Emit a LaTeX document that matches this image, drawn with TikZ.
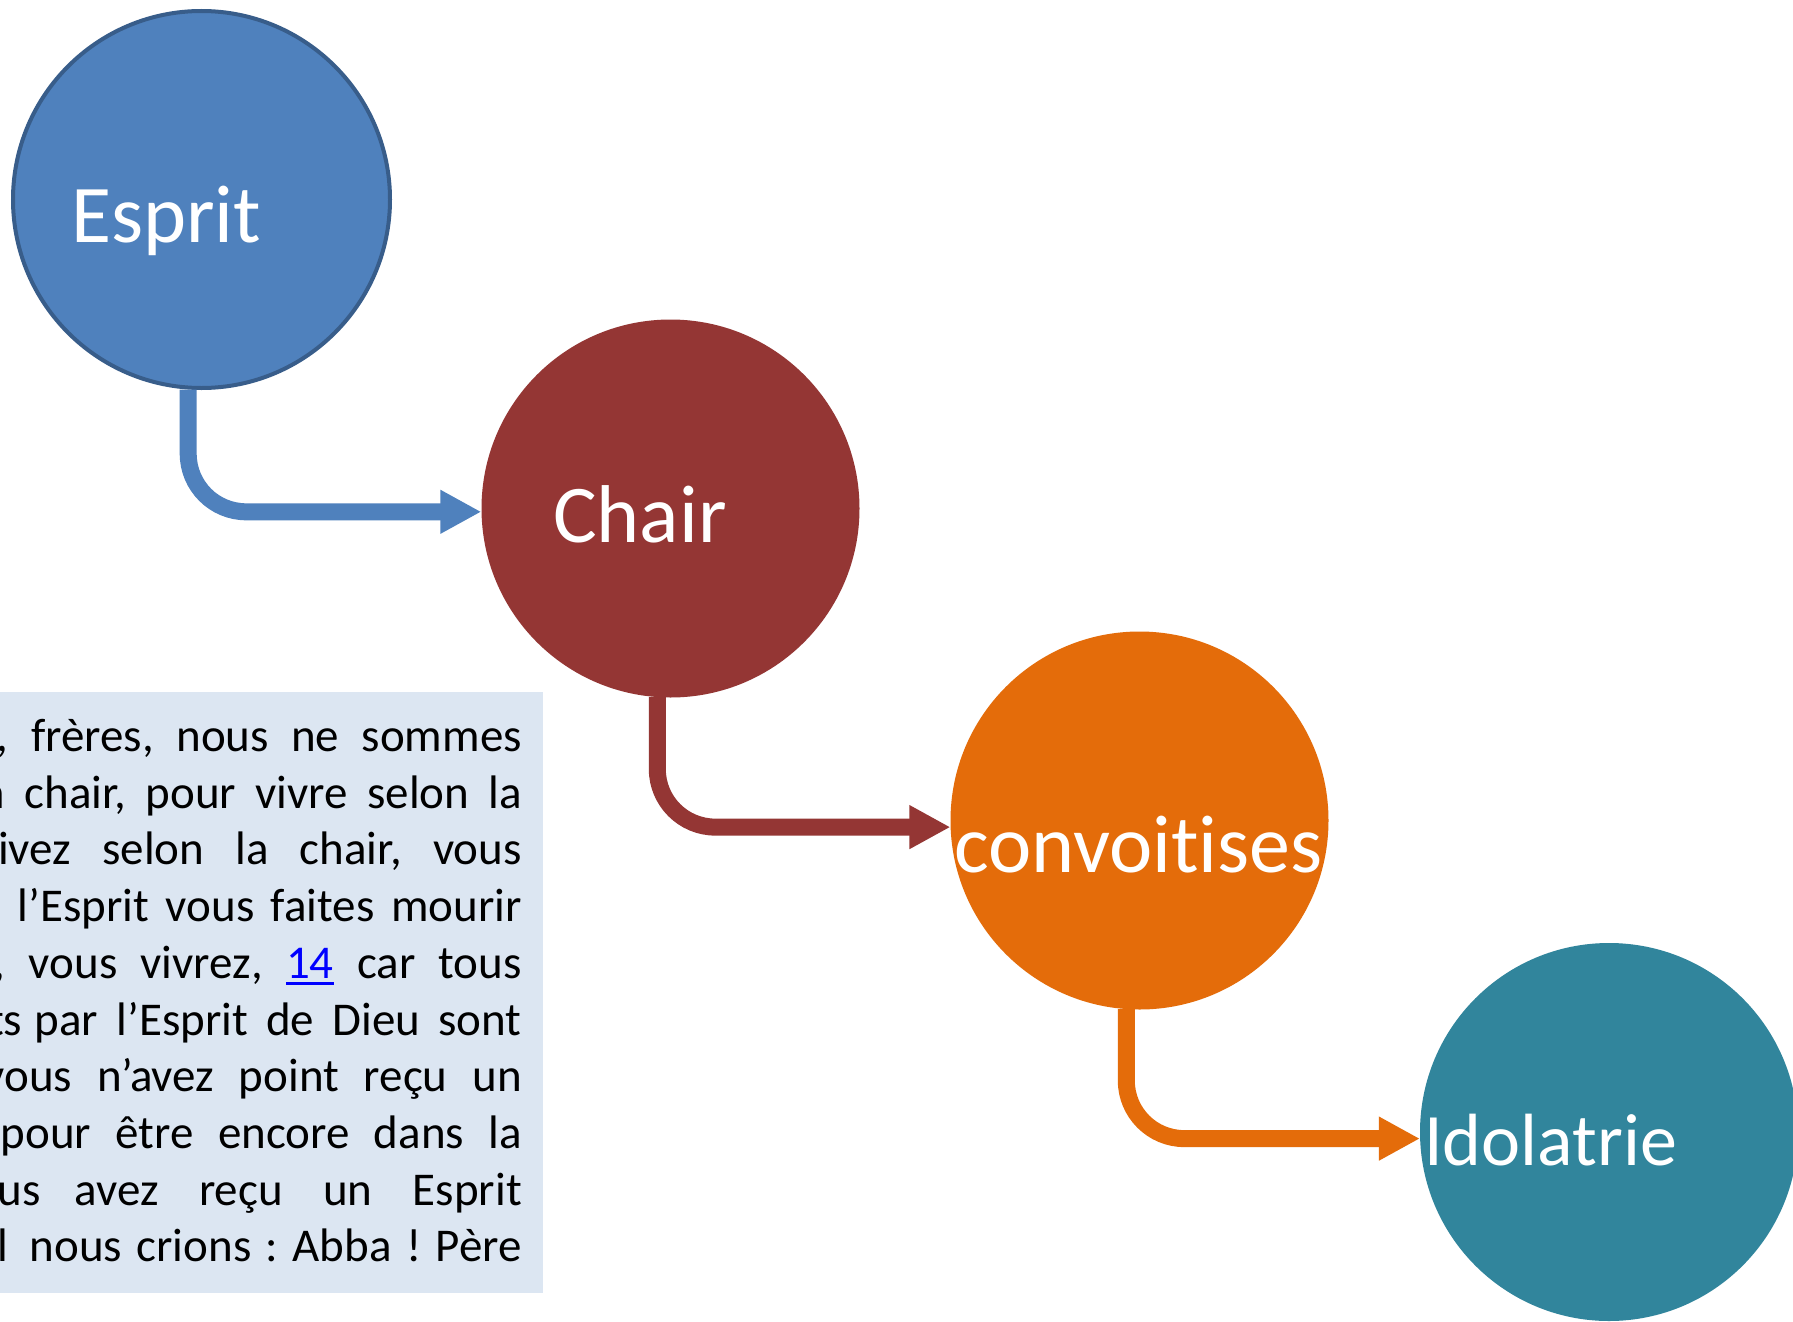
\documentclass[tikz,border=0pt]{standalone}
\usepackage{fontspec}
\setmainfont{Carlito}[Ligatures=NoCommon]
\usetikzlibrary{arrows.meta}
\definecolor{espritfill}{HTML}{4F81BD}
\definecolor{espritline}{HTML}{385D8A}
\definecolor{chairfill}{HTML}{943634}
\definecolor{convfill}{HTML}{E46C0A}
\definecolor{idolfill}{HTML}{31859C}
\definecolor{boxfill}{HTML}{DCE6F2}
\definecolor{linkblue}{HTML}{0000FF}
\newcommand\linkul[1]{\setbox0\hbox{#1}\rlap{\rule[-7pt]{\wd0}{3.5pt}}\box0}
\begin{document}
\begin{tikzpicture}[x=1pt,y=-1pt,
  bubble/.style={circle, minimum size=378pt, inner sep=0pt},
  bigtext/.style={anchor=base west, inner sep=0pt, text=white, font=\fontsize{82}{98}\selectfont},
  bodyline/.style={anchor=base east, inner sep=0pt, font=\fontsize{47}{57}\selectfont\frenchspacing},
  flow/.style={line width=17pt, rounded corners=58pt, -{Triangle[length=41pt,width=41pt]}},
]
\useasboundingbox (0,0) rectangle (1793,1322);
\clip (0,0) rectangle (1793,1322);
\fill[white] (0,0) rectangle (1793,1322);

\node (box) [fill=boxfill, anchor=north east, minimum width=563pt, minimum height=601pt, inner sep=0pt] at (543,692) {};

\node (l1) [bodyline] at (522,751.5) {\makebox[618.9pt][s]{donc, frères, nous ne sommes}};
\node (l2) [bodyline] at (522,808.2) {\makebox[549.6pt][s]{la chair, pour vivre selon la}};
\node (l3) [bodyline] at (522,864.9) {\makebox[545pt][s]{vivez selon la chair, vous}};
\node (l4) [bodyline] at (522,921.6) {\makebox[504pt][s]{l’Esprit vous faites mourir}};
\node (l5) [bodyline] at (522,978.3) {\makebox[631.5pt][s]{corps, vous vivrez, \textcolor{linkblue}{\linkul{14}} car tous}};
\node (l6) [bodyline] at (522,1035) {\makebox[487pt][s]{par l’Esprit de Dieu sont}};
\node (l6p) [bodyline] at (22.5,1035) {conduits};
\node (l7) [bodyline] at (522,1091.7) {\makebox[538.2pt][s]{vous n’avez point reçu un}};
\node (l8) [bodyline] at (522,1148.4) {\makebox[521pt][s]{pour être encore dans la}};
\node (l9) [bodyline] at (522,1205.1) {\makebox[447pt][s]{avez reçu un Esprit}};
\node (l9p) [bodyline] at (41,1205.1) {vous};
\node (l10) [bodyline] at (522,1261.8) {\makebox[492pt][s]{nous crions : Abba ! Père}};
\node (l10p) [bodyline] at (9,1261.8) {lequel};

\node (esprit) [bubble, fill=espritfill, draw=espritline, line width=4pt, minimum size=377pt] at (201.5,199.5) {};
\node (chair) [bubble, fill=chairfill] at (670.5,508.5) {};
\node (conv) [bubble, fill=convfill] at (1139.5,820.5) {};
\node (idol) [bubble, fill=idolfill] at (1609,1132) {};

\draw[flow, espritfill] (esprit.-94) |- (chair.181);
\draw[flow, chairfill] (chair.-94) |- (conv.182);
\draw[flow, convfill] (conv.-94) |- (idol.182);

\node (tesprit) [bigtext] at (71,242) {Esprit};
\node (tchair) [bigtext] at (553,542) {Chair};
\node (tconv) [bigtext] at (954,872) {convoitises};
\node (tidol) [bigtext, font=\fontsize{74}{89}\selectfont] at (1424,1165) {Idolatrie};
\end{tikzpicture}
\end{document}
